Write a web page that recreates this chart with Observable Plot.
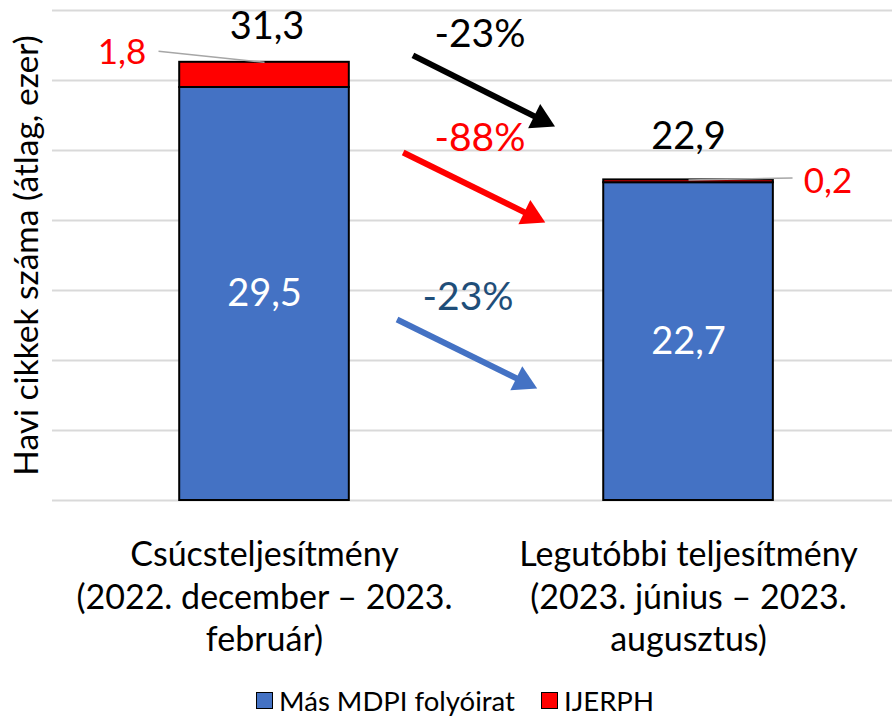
<!DOCTYPE html>
<html>
<head>
<meta charset="utf-8">
<script src="https://cdn.jsdelivr.net/npm/d3@7"></script>
<script src="https://cdn.jsdelivr.net/npm/@observablehq/plot@0.6"></script>
<style>
  html, body { margin: 0; padding: 0; background: #fff; }
  body { width: 892px; height: 717px; overflow: hidden; font-family: Lato, "Open Sans", sans-serif; }
  #legend { display: flex; justify-content: center; align-items: center; height: 33px; font-size: 27.5px; line-height: 33px; color: #000; padding-left: 18px; }
  .item { display: flex; align-items: center; margin: 0 13px; }
  .sw { width: 15px; height: 15px; border: 1.5px solid #000; margin-right: 6px; }
</style>
</head>
<body>
<div id="chart"></div>
<div id="legend"></div>
<script>
// ---- data ----
const categories = [
  "Csúcsteljesítmény\n(2022. december – 2023.\nfebruár)",
  "Legutóbbi teljesítmény\n(2023. június – 2023.\naugusztus)"
];
const seriesNames = ["Más MDPI folyóirat", "IJERPH"];
const masMdpi = [29.5, 22.7];
const ijerph = [1.8, 0.2];
const totals = [31.3, 22.9];
const yTicks = [0, 5, 10, 15, 20, 25, 30, 35];
const yTitle = "Havi cikkek száma (átlag, ezer)";
const changeLabels = ["-23%", "-88%", "-23%"];

// ---- style ----
const colors = {blue: "#4472C4", red: "#FF0000", black: "#000000", darkBlue: "#1F4E79", grid: "#D9D9D9", leader: "#A6A6A6"};
const W = 892, H = 684, mL = 52, mR = 0, mT = 10, mB = 184;
const xDomain = [-0.5, 1.481], yDomain = [0, 35];
const halfBar = 0.2;

// annotation positions (data units) for change arrows and their labels
const arrows = [
  {x1: 0.350, y1: 31.79, x2: 0.685, y2: 26.71, color: colors.black},
  {x1: 0.327, y1: 24.86, x2: 0.662, y2: 19.86, color: colors.red},
  {x1: 0.3125, y1: 12.93, x2: 0.643, y2: 8.0, color: colors.blue}
];
const changePos = [
  {x: 0.508, y: 33.29, color: colors.black},
  {x: 0.508, y: 25.86, color: colors.red},
  {x: 0.480, y: 14.5, color: colors.darkBlue}
];
// pixel offsets of labels relative to bar tops
const totalOffset = [{dx: 2.5, dy: -35}, {dx: 0, dy: -43.5}];
const ijerphOffset = [{dx: -142.5, dy: -10}, {dx: 139.5, dy: 1.5}];
const leaderOffset = [{dx: -106, dy: -11}, {dx: 104, dy: -2}];

const fmt = v => d3.format(".1f")(v).replace(".", ",");

// helper scales mirroring Plot's, for pixel offsets
const xs = d3.scaleLinear(xDomain, [mL, W - mR]);
const ys = d3.scaleLinear(yDomain, [H - mB, mT]);

const bars = [];
categories.forEach((c, i) => {
  bars.push({i, s: seriesNames[0], y1: 0, y2: masMdpi[i], color: colors.blue});
  bars.push({i, s: seriesNames[1], y1: masMdpi[i], y2: masMdpi[i] + ijerph[i], color: colors.red});
});

const headBack = 15.5;
const arrowData = arrows.map(a => {
  const p1 = [xs(a.x1), ys(a.y1)], p2 = [xs(a.x2), ys(a.y2)];
  const phi = Math.atan2(p2[1] - p1[1], p2[0] - p1[0]);
  const hc = [p2[0] - headBack * Math.cos(phi), p2[1] - headBack * Math.sin(phi)];
  return {...a, hx: xs.invert(hc[0]), hy: ys.invert(hc[1]), rot: phi * 180 / Math.PI + 90};
});

const totalLabels = totals.map((t, i) => ({
  x: xs.invert(xs(i) + totalOffset[i].dx), y: ys.invert(ys(t) + totalOffset[i].dy), text: fmt(t)
}));
const ijerphLabels = ijerph.map((v, i) => ({
  x: xs.invert(xs(i) + ijerphOffset[i].dx), y: ys.invert(ys(totals[i]) + ijerphOffset[i].dy), text: fmt(v)
}));
const leaders = totals.map((t, i) => ({
  x1: i, y1: t, x2: xs.invert(xs(i) + leaderOffset[i].dx), y2: ys.invert(ys(t) + leaderOffset[i].dy)
}));
const innerLabels = masMdpi.map((v, i) => ({x: i, y: v / 2, text: fmt(v)}));

const plot = Plot.plot({
  width: W, height: H,
  marginLeft: mL, marginRight: mR, marginTop: mT, marginBottom: mB,
  style: {fontFamily: "Lato, 'Open Sans', sans-serif", color: "#000", background: "#fff"},
  x: {domain: xDomain, axis: null},
  y: {domain: yDomain, axis: null},
  color: {type: "identity"},
  marks: [
    Plot.ruleY(yTicks, {stroke: colors.grid, strokeWidth: 2}),
    Plot.axisX({
      ticks: categories.map((c, i) => i), tickFormat: i => categories[i],
      tickSize: 0, tickPadding: 36, fontSize: 34, lineHeight: 1.24, label: null
    }),
    Plot.text([yTitle], {frameAnchor: "left", textAnchor: "middle", dx: -25, rotate: -90, fontSize: 33.5, fill: "#000"}),
    Plot.rect(bars, {x1: d => d.i - halfBar, x2: d => d.i + halfBar, y1: "y1", y2: "y2", fill: "color", stroke: "#000", strokeWidth: 2}),
    Plot.link(leaders, {x1: "x1", y1: "y1", x2: "x2", y2: "y2", stroke: colors.leader, strokeWidth: 1.5}),
    Plot.text(innerLabels, {x: "x", y: "y", text: "text", fill: "#fff", fontSize: 38}),
    Plot.text(totalLabels, {x: "x", y: "y", text: "text", fill: "#000", fontSize: 38}),
    Plot.text(ijerphLabels, {x: "x", y: "y", text: "text", fill: colors.red, fontSize: 35}),
    Plot.link(arrowData, {x1: "x1", y1: "y1", x2: "hx", y2: "hy", stroke: "color", strokeWidth: 6, strokeLinecap: "butt"}),
    Plot.dot(arrowData, {x: "hx", y: "hy", symbol: "triangle", r: 10, fill: "color", stroke: null, rotate: "rot"}),
    Plot.text(changePos, {x: "x", y: "y", text: (d, i) => changeLabels[i], fill: "color", fontSize: 39})
  ]
});
document.getElementById("chart").appendChild(plot);

const legend = document.getElementById("legend");
seriesNames.forEach((s, i) => {
  const item = document.createElement("div");
  item.className = "item";
  const sw = document.createElement("div");
  sw.className = "sw";
  sw.style.background = i === 0 ? colors.blue : colors.red;
  const t = document.createElement("span");
  t.textContent = s;
  item.appendChild(sw); item.appendChild(t);
  legend.appendChild(item);
});
</script>
</body>
</html>
